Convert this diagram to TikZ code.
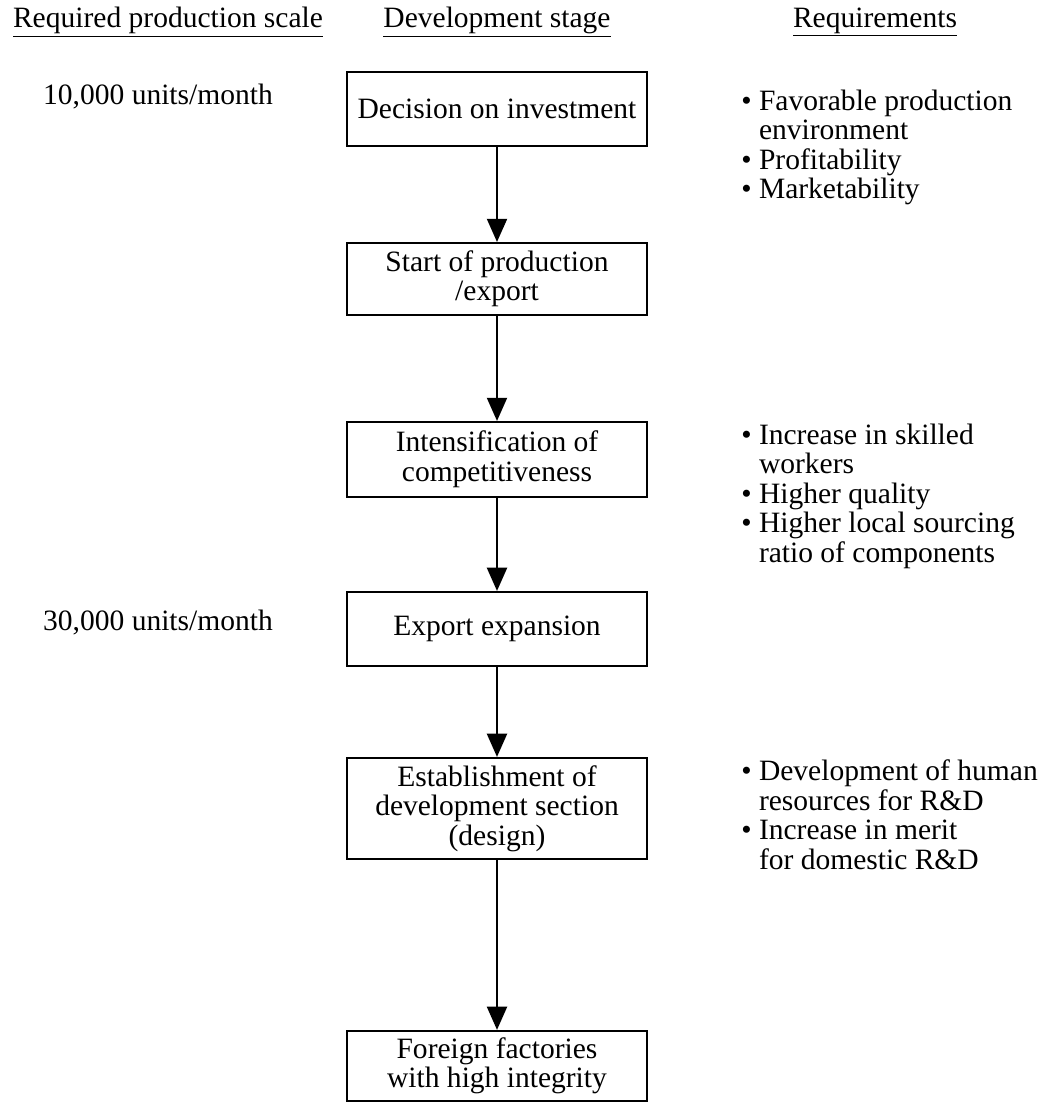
\documentclass[tikz,border=0pt]{standalone}
\usepackage{fontspec}
\setmainfont{Liberation Serif}
\usepackage{tikz}
\usetikzlibrary{positioning,arrows.meta}

\begin{document}
\begin{tikzpicture}
                [stage/.style={rectangle,draw,line width=1.4pt,minimum width=7.5cm,minimum height=1.85cm,inner sep=1pt,align=center},
                hdr/.style={inner sep=0pt},
                amount/.style={inner sep=0pt},
                req/.style={inner sep=0pt,anchor=north west,align=left},
                flow/.style={line width=1.5pt,-{Triangle[length=0.58cm,width=0.5cm]}},
                every node/.style={font=\fontsize{21}{21}\selectfont}]
                \useasboundingbox (0,0) rectangle (26,-27.625);
                \node[hdr] (hscale) at (4.2,-0.55){\underline{Required production scale}};
                \node[hdr] (hstage) at (12.425,-0.55){\underline{Development stage}};
                \node[hdr] (hreq) at (21.875,-0.55){\underline{Requirements}};
                \node[stage] (invest) at (12.425,-2.725){Decision on investment};
                \node[stage,minimum height=1.8cm] (start)[below=2.375cm of invest]{Start of production\\/export};
                \node[stage,minimum height=1.875cm] (compete)[below=2.625cm of start]{Intensification of\\competitiveness};
                \node[stage] (expand)[below=2.325cm of compete]{Export expansion};
                \node[stage,minimum height=2.525cm] (design)[below=2.25cm of expand]{Establishment of\\development section\\(design)};
                \node[stage,minimum height=1.75cm] (foreign)[below=4.25cm of design]{Foreign factories\\with high integrity};
                \node[amount] (ten) at (3.95,-2.425){10,000 units/month};
                \node[amount] (thirty) at (3.95,-15.575){30,000 units/month};
                \node[req] (reqa) at (18.525,-2.24){\textbullet\ Favorable production\\
                    \phantom{\textbullet\ }environment\\
                    \textbullet\ Profitability\\
                    \textbullet\ Marketability};
                \node[req] (reqb) at (18.525,-10.59){\textbullet\ Increase in skilled\\
                    \phantom{\textbullet\ }workers\\
                    \textbullet\ Higher quality\\
                    \textbullet\ Higher local sourcing\\
                    \phantom{\textbullet\ }ratio of components};
                \node[req] (reqc) at (18.525,-18.99){\textbullet\ Development of human\\
                    \phantom{\textbullet\ }resources for R\&D\\
                    \textbullet\ Increase in merit\\
                    \phantom{\textbullet\ }for domestic R\&D};
                \draw[flow] (invest) -- (start);
                \draw[flow] (start) -- (compete);
                \draw[flow] (compete) -- (expand);
                \draw[flow] (expand) -- (design);
                \draw[flow] (design) -- (foreign);
\end{tikzpicture}
\end{document}
